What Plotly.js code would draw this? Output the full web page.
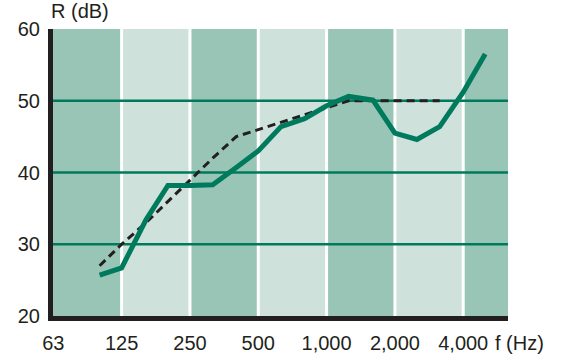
<!DOCTYPE html>
<html>
<head>
<meta charset="utf-8">
<script src="https://cdn.plot.ly/plotly-3.0.1.min.js"></script>
<style>html,body{margin:0;padding:0;background:#fff;}#chart{width:566px;height:360px;}</style>
</head>
<body>
<div id="chart"></div>
<script>
// Data
const freqs = [100, 125, 160, 200, 250, 315, 400, 500, 630, 800, 1000, 1250, 1600, 2000, 2500, 3150, 4000, 5000];
const measured = [25.7, 26.7, 33.4, 38.2, 38.2, 38.3, 40.7, 43.0, 46.4, 47.5, 49.3, 50.6, 50.1, 45.5, 44.6, 46.4, 51.2, 56.5];
const refFreqs = [100, 125, 160, 200, 250, 315, 400, 500, 630, 800, 1000, 1250, 1600, 2000, 2500, 3150];
const reference = [27, 30, 33, 36, 39, 42, 45, 46, 47, 48, 49, 50, 50, 50, 50, 50];
const bandEdges = [62.3, 125, 250, 500, 1000, 2000, 4000, 6300];
const xTickVals = [62.5, 125, 250, 500, 1000, 2000, 4000];
const xTickText = ['63', '125', '250', '500', '1,000', '2,000', '4,000'];
const yTickVals = [20, 30, 40, 50, 60];
const gridVals = [30, 40, 50];

const darkBand = '#99C5B7';
const lightBand = '#CFE1DB';
const green = '#007A5C';
const ink = '#231F20';

const shapes = [];
for (let i = 0; i < bandEdges.length - 1; i++) {
  shapes.push({
    type: 'rect', layer: 'below', xref: 'x', yref: 'paper',
    x0: bandEdges[i], x1: bandEdges[i + 1], y0: 0, y1: 1,
    fillcolor: i % 2 === 0 ? darkBand : lightBand, line: {width: 0}
  });
}
for (let i = 1; i < bandEdges.length - 1; i++) {
  shapes.push({
    type: 'line', layer: 'below', xref: 'x', yref: 'paper',
    x0: bandEdges[i], x1: bandEdges[i], y0: 0, y1: 1,
    line: {color: '#ffffff', width: 3}
  });
}
gridVals.forEach(v => shapes.push({
  type: 'line', layer: 'below', xref: 'paper', yref: 'y',
  x0: 0, x1: 1, y0: v, y1: v, line: {color: green, width: 2.5}
}));

const traces = [
  {x: refFreqs, y: reference, type: 'scatter', mode: 'lines',
   line: {color: ink, width: 3, dash: '8px,5px'}, hoverinfo: 'skip'},
  {x: freqs, y: measured, type: 'scatter', mode: 'lines',
   line: {color: green, width: 5}, hoverinfo: 'skip'}
];

const font = {family: '"Liberation Sans", Arial, sans-serif', size: 20, color: ink};

const layout = {
  width: 566, height: 360,
  margin: {l: 53, r: 58, t: 29, b: 44, pad: 0},
  paper_bgcolor: '#ffffff', plot_bgcolor: '#ffffff',
  showlegend: false,
  font: font,
  xaxis: {
    type: 'log',
    range: [Math.log10(bandEdges[0]), Math.log10(bandEdges[bandEdges.length - 1])],
    tickvals: xTickVals, ticktext: xTickText,
    showgrid: false, zeroline: false,
    showline: true, linecolor: ink, linewidth: 5,
    ticks: '', ticklabelstandoff: 5,
    tickfont: font, fixedrange: true
  },
  yaxis: {
    range: [20, 60],
    tickvals: yTickVals,
    showgrid: false, zeroline: false,
    showline: true, linecolor: ink, linewidth: 5,
    ticks: '', ticklabelstandoff: 4,
    tickfont: font, fixedrange: true
  },
  shapes: shapes,
  annotations: [
    {text: 'R (dB)', xref: 'paper', yref: 'paper', x: 0, y: 1, xanchor: 'left', yanchor: 'bottom',
     xshift: -4, yshift: 5, showarrow: false, font: font},
    {text: 'f (Hz)', xref: 'paper', yref: 'paper', x: 1, y: 0, xanchor: 'center', yanchor: 'top',
     xshift: 11, yshift: -14, showarrow: false, font: font}
  ]
};

Plotly.newPlot('chart', traces, layout, {displayModeBar: false, staticPlot: true});
</script>
</body>
</html>
